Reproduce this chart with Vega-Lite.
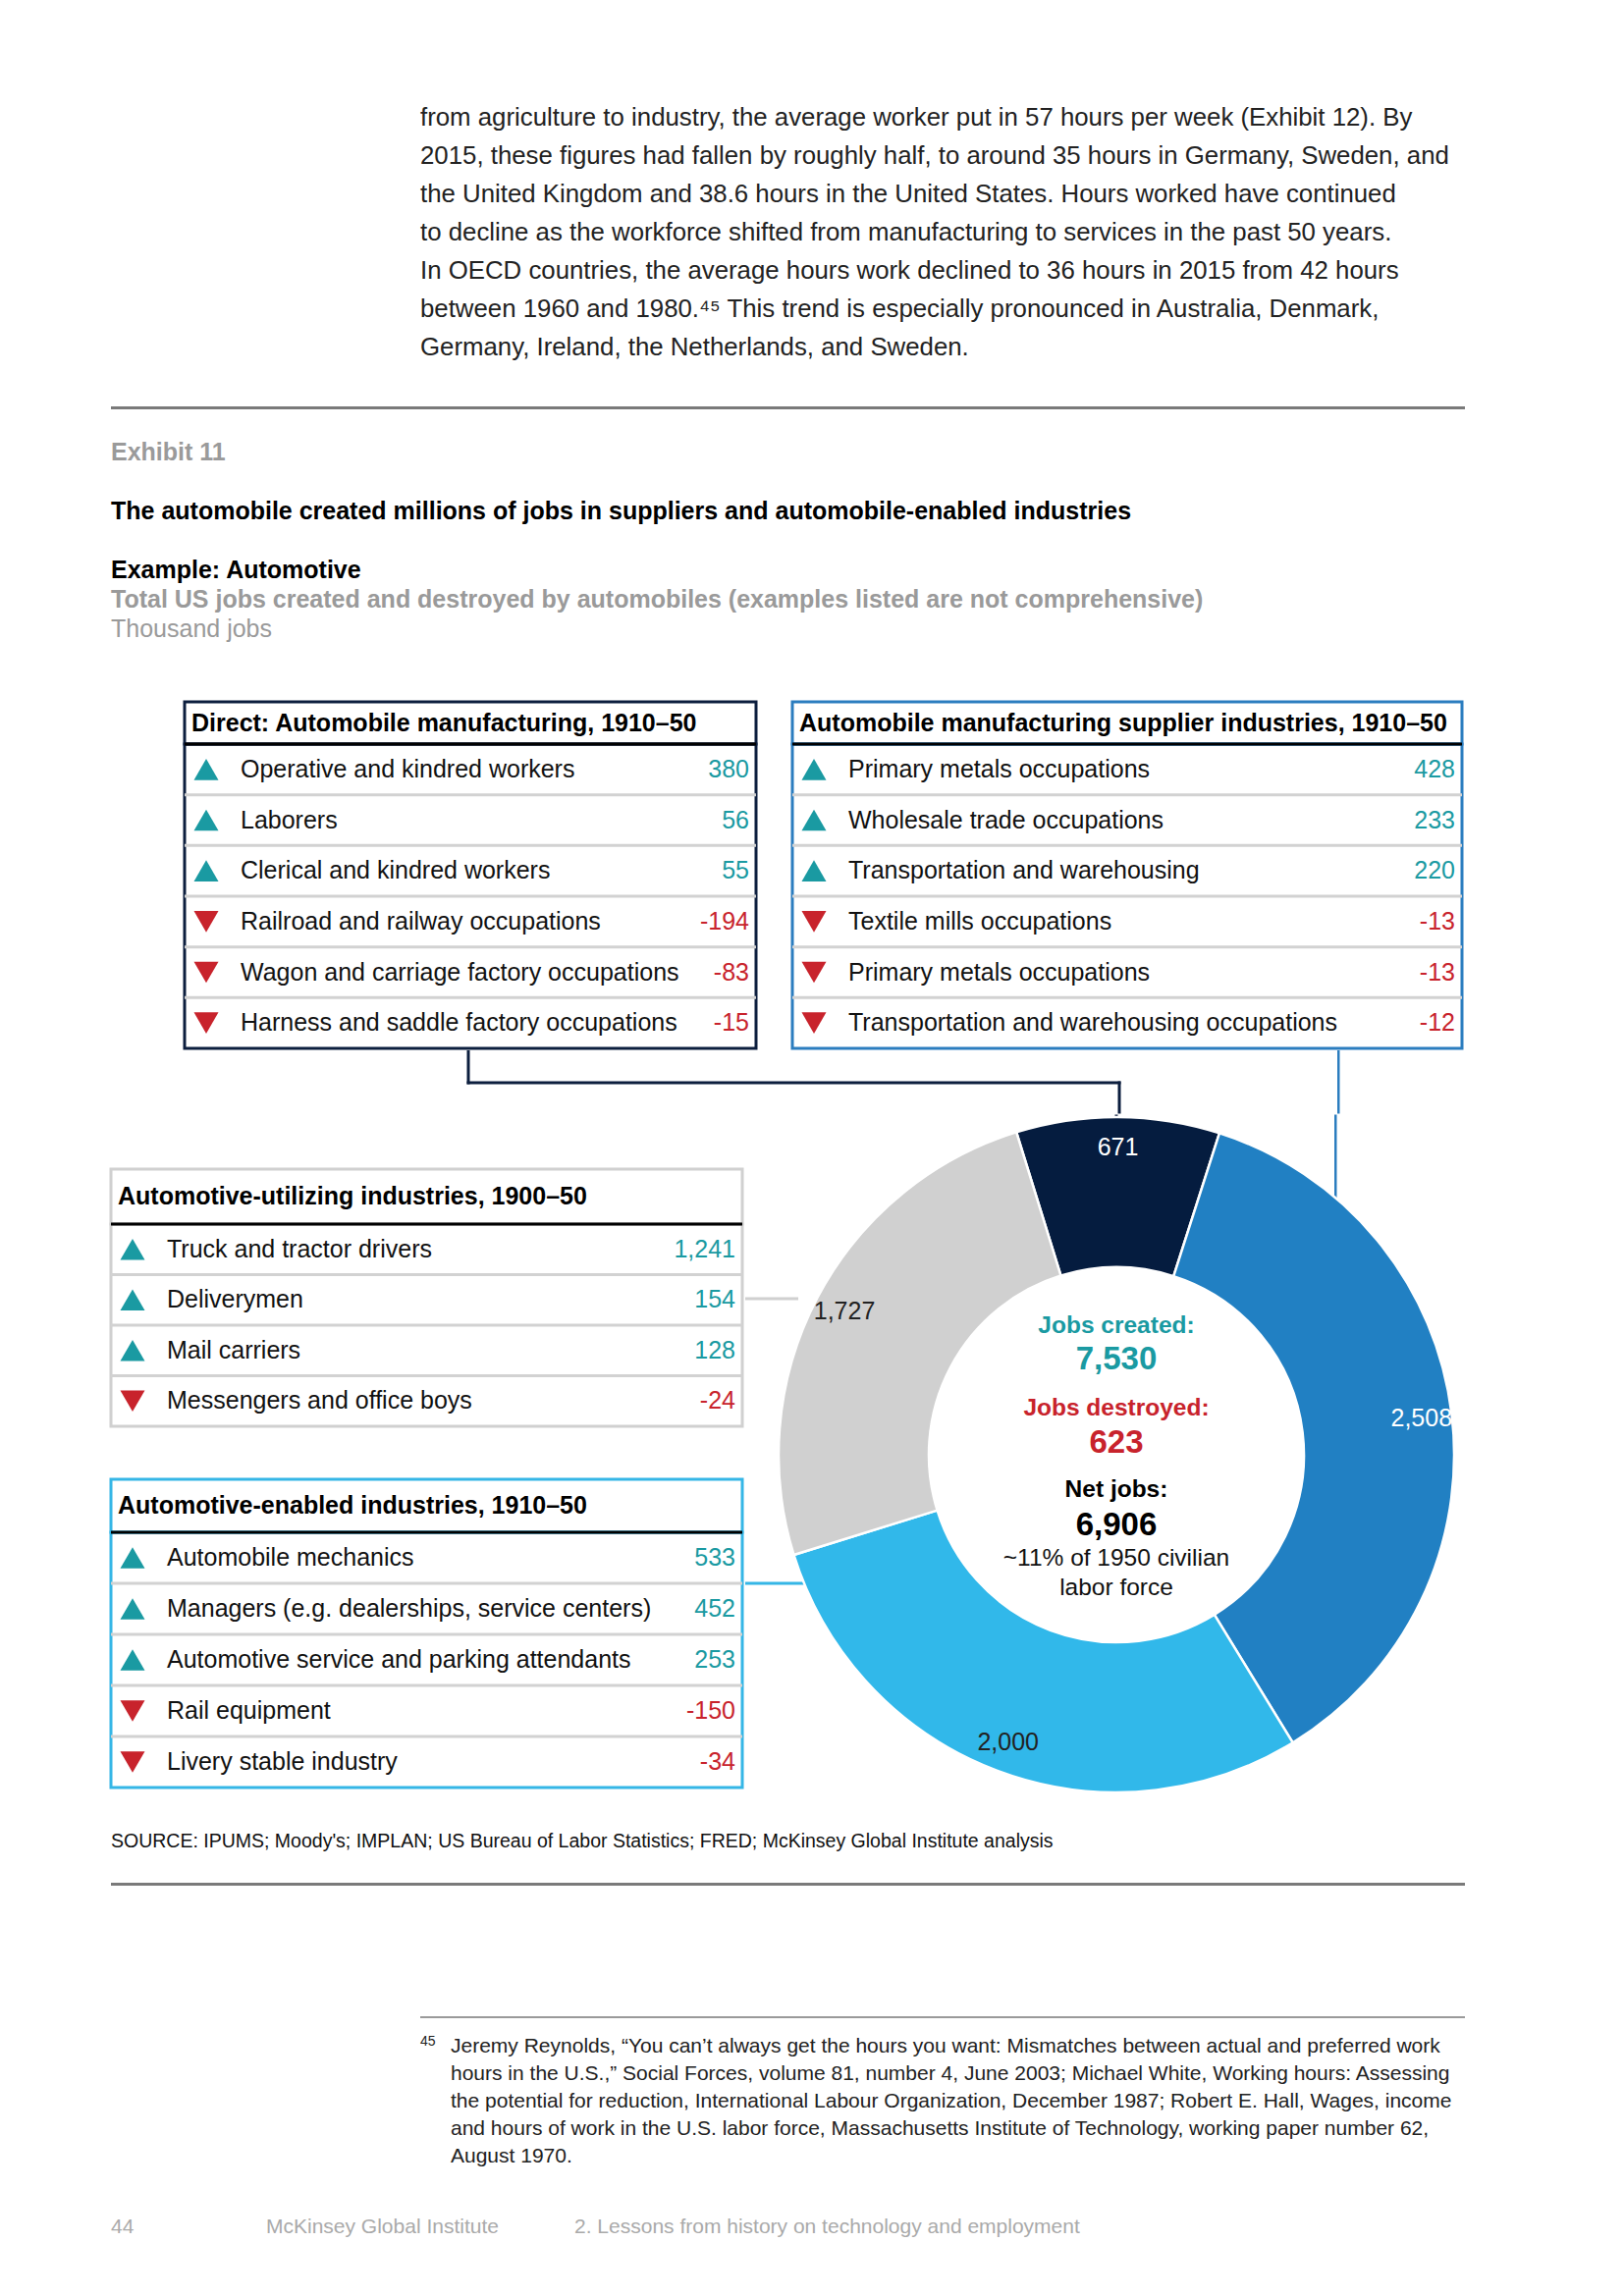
{
  "$schema": "https://vega.github.io/schema/vega-lite/v6.json",
  "padding": {"left": 110, "top": 101, "right": 0, "bottom": 0},
  "background": "white",
  "spacing": 0,
  "config": {
    "view": {"stroke": null},
    "concat": {"spacing": 0},
    "font": "Liberation Sans",
    "text": {"font": "Liberation Sans"},
    "locale": {"number": {"decimal": ".", "thousands": ",", "grouping": [3], "currency": ["$", ""], "minus": "-"}}
  },
  "datasets": {
    "jobs": [
      {"group": "Direct: Automobile manufacturing, 1910–50", "item": "Operative and kindred workers", "change": 380},
      {"group": "Direct: Automobile manufacturing, 1910–50", "item": "Laborers", "change": 56},
      {"group": "Direct: Automobile manufacturing, 1910–50", "item": "Clerical and kindred workers", "change": 55},
      {"group": "Direct: Automobile manufacturing, 1910–50", "item": "Railroad and railway occupations", "change": -194},
      {"group": "Direct: Automobile manufacturing, 1910–50", "item": "Wagon and carriage factory occupations", "change": -83},
      {"group": "Direct: Automobile manufacturing, 1910–50", "item": "Harness and saddle factory occupations", "change": -15},
      {"group": "Automobile manufacturing supplier industries, 1910–50", "item": "Primary metals occupations", "change": 428},
      {"group": "Automobile manufacturing supplier industries, 1910–50", "item": "Wholesale trade occupations", "change": 233},
      {"group": "Automobile manufacturing supplier industries, 1910–50", "item": "Transportation and warehousing", "change": 220},
      {"group": "Automobile manufacturing supplier industries, 1910–50", "item": "Textile mills occupations", "change": -13},
      {"group": "Automobile manufacturing supplier industries, 1910–50", "item": "Primary metals occupations", "change": -13},
      {"group": "Automobile manufacturing supplier industries, 1910–50", "item": "Transportation and warehousing occupations", "change": -12},
      {"group": "Automotive-utilizing industries, 1900–50", "item": "Truck and tractor drivers", "change": 1241},
      {"group": "Automotive-utilizing industries, 1900–50", "item": "Deliverymen", "change": 154},
      {"group": "Automotive-utilizing industries, 1900–50", "item": "Mail carriers", "change": 128},
      {"group": "Automotive-utilizing industries, 1900–50", "item": "Messengers and office boys", "change": -24},
      {"group": "Automotive-enabled industries, 1910–50", "item": "Automobile mechanics", "change": 533},
      {"group": "Automotive-enabled industries, 1910–50", "item": "Managers (e.g. dealerships, service centers)", "change": 452},
      {"group": "Automotive-enabled industries, 1910–50", "item": "Automotive service and parking attendants", "change": 253},
      {"group": "Automotive-enabled industries, 1910–50", "item": "Rail equipment", "change": -150},
      {"group": "Automotive-enabled industries, 1910–50", "item": "Livery stable industry", "change": -34}
    ],
    "donut": [
      {"segment": "Direct: automobile manufacturing", "jobs": 671},
      {"segment": "Automobile manufacturing supplier industries", "jobs": 2508},
      {"segment": "Automotive-enabled industries", "jobs": 2000},
      {"segment": "Automotive-utilizing industries", "jobs": 1727}
    ],
    "totals": [
      {"measure": "Jobs created:", "value": 7530},
      {"measure": "Jobs destroyed:", "value": 623},
      {"measure": "Net jobs:", "value": 6906}
    ]
  },
  "vconcat": [
    {
      "hconcat": [
        {"width": 315, "height": 272, "data": {"values": []}, "mark": "point"},
        {
          "width": 1064, "height": 272,
          "data": {"values": [
            {"text": "from agriculture to industry, the average worker put in 57 hours per week (Exhibit 12). By"},
            {"text": "2015, these figures had fallen by roughly half, to around 35 hours in Germany, Sweden, and"},
            {"text": "the United Kingdom and 38.6 hours in the United States. Hours worked have continued"},
            {"text": "to decline as the workforce shifted from manufacturing to services in the past 50 years."},
            {"text": "In OECD countries, the average hours work declined to 36 hours in 2015 from 42 hours"},
            {"text": "between 1960 and 1980.⁴⁵ This trend is especially pronounced in Australia, Denmark,"},
            {"text": "Germany, Ireland, the Netherlands, and Sweden."}
          ]},
          "mark": {"type": "text", "align": "left", "baseline": "middle", "fontSize": 25.8, "color": "#222222"},
          "encoding": {
            "x": {"value": 0},
            "y": {"field": "text", "type": "ordinal", "sort": null, "axis": null, "scale": {"type": "point", "padding": 0.5}},
            "text": {"field": "text"}
          }
        }
      ],
      "bounds": "flush", "spacing": 0
    },
    {"width": 10, "height": 41, "data": {"values": []}, "mark": "point"},
    {"width": 1379, "height": 3, "view": {"fill": "#7a7a7a", "stroke": null}, "data": {"values": []}, "mark": "point"},
    {"width": 10, "height": 29, "data": {"values": []}, "mark": "point"},
    {
      "width": 1379, "height": 210,
      "data": {"values": [
        {"text": "Exhibit 11", "kind": "exhibit"},
        {"text": "The automobile created millions of jobs in suppliers and automobile-enabled industries", "kind": "title"},
        {"text": "Example: Automotive", "kind": "example"},
        {"text": "Total US jobs created and destroyed by automobiles (examples listed are not comprehensive)", "kind": "subtitle"},
        {"text": "Thousand jobs", "kind": "unit"}
      ]},
      "encoding": {
        "x": {"value": 0},
        "y": {"field": "text", "type": "ordinal", "axis": null, "scale": {"type": "point", "padding": 0.5, "domain": ["Exhibit 11", "gap1", "The automobile created millions of jobs in suppliers and automobile-enabled industries", "gap2", "Example: Automotive", "Total US jobs created and destroyed by automobiles (examples listed are not comprehensive)", "Thousand jobs"]}},
        "text": {"field": "text"},
        "color": {"condition": {"test": "datum.kind === 'title' || datum.kind === 'example'", "value": "#000000"}, "value": "#9a9a9a"}
      },
      "layer": [
        {"transform": [{"filter": "datum.kind !== 'unit'"}], "mark": {"type": "text", "align": "left", "baseline": "middle", "fontSize": 25, "fontWeight": "bold"}},
        {"transform": [{"filter": "datum.kind === 'unit'"}], "mark": {"type": "text", "align": "left", "baseline": "middle", "fontSize": 25}}
      ]
    },
    {"width": 10, "height": 57, "data": {"values": []}, "mark": "point"},
    {
      "hconcat": [
        {"width": 72, "height": 10, "data": {"values": []}, "mark": "point"},
        {
          "vconcat": [
            {
              "width": 582, "height": 43,
              "view": {"stroke": "#0c1e3e", "strokeWidth": 3},
              "data": {"name": "jobs"},
              "transform": [{"filter": {"field": "group", "equal": "Direct: Automobile manufacturing, 1910–50"}}, {"aggregate": [{"op": "count", "as": "n"}], "groupby": ["group"]}],
              "mark": {"type": "text", "x": 7, "align": "left", "baseline": "middle", "fontSize": 25, "fontWeight": "bold", "color": "#000000"},
              "encoding": {"text": {"field": "group"}}
            },
            {
              "width": 582, "height": 310,
              "view": {"stroke": "#0c1e3e", "strokeWidth": 3},
              "data": {"name": "jobs"},
              "transform": [{"filter": {"field": "group", "equal": "Direct: Automobile manufacturing, 1910–50"}}, {"window": [{"op": "row_number", "as": "row"}]}],
              "encoding": {"y": {"field": "row", "type": "ordinal", "axis": null, "scale": {"type": "band", "paddingInner": 0, "paddingOuter": 0}}},
              "layer": [
                {"mark": {"type": "rule", "strokeWidth": 3}, "encoding": {"y": {"field": "row", "type": "ordinal", "bandPosition": 0, "axis": null}, "color": {"condition": {"test": "datum.row === 1", "value": "#000000"}, "value": "#d2d2d2"}}},
                {"mark": {"type": "point", "filled": true, "opacity": 1, "size": 625, "x": 22}, "encoding": {"shape": {"condition": {"test": "datum.change > 0", "value": "triangle-up"}, "value": "triangle-down"}, "color": {"condition": {"test": "datum.change > 0", "value": "#1a9aa2"}, "value": "#c8232c"}}},
                {"mark": {"type": "text", "x": 57, "align": "left", "baseline": "middle", "fontSize": 25, "color": "#111111"}, "encoding": {"text": {"field": "item"}}},
                {"mark": {"type": "text", "x": "width", "dx": -7, "align": "right", "baseline": "middle", "fontSize": 25}, "encoding": {"text": {"field": "change", "type": "quantitative", "format": ","}, "color": {"condition": {"test": "datum.change > 0", "value": "#1a9aa2"}, "value": "#c8232c"}}}
              ]
            }
          ],
          "bounds": "flush", "spacing": 0
        },
        {"width": 31, "height": 10, "data": {"values": []}, "mark": "point"},
        {
          "vconcat": [
            {
              "width": 682, "height": 43,
              "view": {"stroke": "#2b7dbf", "strokeWidth": 3},
              "data": {"name": "jobs"},
              "transform": [{"filter": {"field": "group", "equal": "Automobile manufacturing supplier industries, 1910–50"}}, {"aggregate": [{"op": "count", "as": "n"}], "groupby": ["group"]}],
              "mark": {"type": "text", "x": 7, "align": "left", "baseline": "middle", "fontSize": 25, "fontWeight": "bold", "color": "#000000"},
              "encoding": {"text": {"field": "group"}}
            },
            {
              "width": 682, "height": 310,
              "view": {"stroke": "#2b7dbf", "strokeWidth": 3},
              "data": {"name": "jobs"},
              "transform": [{"filter": {"field": "group", "equal": "Automobile manufacturing supplier industries, 1910–50"}}, {"window": [{"op": "row_number", "as": "row"}]}],
              "encoding": {"y": {"field": "row", "type": "ordinal", "axis": null, "scale": {"type": "band", "paddingInner": 0, "paddingOuter": 0}}},
              "layer": [
                {"mark": {"type": "rule", "strokeWidth": 3}, "encoding": {"y": {"field": "row", "type": "ordinal", "bandPosition": 0, "axis": null}, "color": {"condition": {"test": "datum.row === 1", "value": "#000000"}, "value": "#d2d2d2"}}},
                {"mark": {"type": "point", "filled": true, "opacity": 1, "size": 625, "x": 22}, "encoding": {"shape": {"condition": {"test": "datum.change > 0", "value": "triangle-up"}, "value": "triangle-down"}, "color": {"condition": {"test": "datum.change > 0", "value": "#1a9aa2"}, "value": "#c8232c"}}},
                {"mark": {"type": "text", "x": 57, "align": "left", "baseline": "middle", "fontSize": 25, "color": "#111111"}, "encoding": {"text": {"field": "item"}}},
                {"mark": {"type": "text", "x": "width", "dx": -7, "align": "right", "baseline": "middle", "fontSize": 25}, "encoding": {"text": {"field": "change", "type": "quantitative", "format": ","}, "color": {"condition": {"test": "datum.change > 0", "value": "#1a9aa2"}, "value": "#c8232c"}}}
              ]
            }
          ],
          "bounds": "flush", "spacing": 0
        }
      ],
      "spacing": 0
    },
    {
      "width": 1379, "height": 64.5,
      "data": {"values": [{}]},
      "layer": [
        {"mark": {"type": "rect", "color": "#0c1e3e"}, "encoding": {"x": {"value": 362.5}, "x2": {"value": 365.5}, "y": {"value": 0}, "y2": {"value": 34.5}}},
        {"mark": {"type": "rect", "color": "#0c1e3e"}, "encoding": {"x": {"value": 362.5}, "x2": {"value": 1028.5}, "y": {"value": 31.5}, "y2": {"value": 34.5}}},
        {"mark": {"type": "rect", "color": "#0c1e3e"}, "encoding": {"x": {"value": 1025.5}, "x2": {"value": 1028.5}, "y": {"value": 31.5}, "y2": {"value": 64.5}}},
        {"mark": {"type": "rect", "color": "#2b7dbf"}, "encoding": {"x": {"value": 1249}, "x2": {"value": 1251.5}, "y": {"value": 0}, "y2": {"value": 64.5}}}
      ]
    },
    {
      "hconcat": [
        {
          "vconcat": [
            {"width": 10, "height": 52, "data": {"values": []}, "mark": "point"},
            {
              "width": 643, "height": 56,
              "view": {"stroke": "#d0d0d0", "strokeWidth": 3},
              "data": {"name": "jobs"},
              "transform": [{"filter": {"field": "group", "equal": "Automotive-utilizing industries, 1900–50"}}, {"aggregate": [{"op": "count", "as": "n"}], "groupby": ["group"]}],
              "mark": {"type": "text", "x": 7, "align": "left", "baseline": "middle", "fontSize": 25, "fontWeight": "bold", "color": "#000000"},
              "encoding": {"text": {"field": "group"}}
            },
            {
              "width": 643, "height": 206,
              "view": {"stroke": "#d0d0d0", "strokeWidth": 3},
              "data": {"name": "jobs"},
              "transform": [{"filter": {"field": "group", "equal": "Automotive-utilizing industries, 1900–50"}}, {"window": [{"op": "row_number", "as": "row"}]}],
              "encoding": {"y": {"field": "row", "type": "ordinal", "axis": null, "scale": {"type": "band", "paddingInner": 0, "paddingOuter": 0}}},
              "layer": [
                {"mark": {"type": "rule", "strokeWidth": 3}, "encoding": {"y": {"field": "row", "type": "ordinal", "bandPosition": 0, "axis": null}, "color": {"condition": {"test": "datum.row === 1", "value": "#000000"}, "value": "#d2d2d2"}}},
                {"mark": {"type": "point", "filled": true, "opacity": 1, "size": 625, "x": 22}, "encoding": {"shape": {"condition": {"test": "datum.change > 0", "value": "triangle-up"}, "value": "triangle-down"}, "color": {"condition": {"test": "datum.change > 0", "value": "#1a9aa2"}, "value": "#c8232c"}}},
                {"mark": {"type": "text", "x": 57, "align": "left", "baseline": "middle", "fontSize": 25, "color": "#111111"}, "encoding": {"text": {"field": "item"}}},
                {"mark": {"type": "text", "x": "width", "dx": -7, "align": "right", "baseline": "middle", "fontSize": 25}, "encoding": {"text": {"field": "change", "type": "quantitative", "format": ","}, "color": {"condition": {"test": "datum.change > 0", "value": "#1a9aa2"}, "value": "#c8232c"}}}
              ]
            },
            {"width": 10, "height": 54, "data": {"values": []}, "mark": "point"},
            {
              "width": 643, "height": 54,
              "view": {"stroke": "#35b6e6", "strokeWidth": 3},
              "data": {"name": "jobs"},
              "transform": [{"filter": {"field": "group", "equal": "Automotive-enabled industries, 1910–50"}}, {"aggregate": [{"op": "count", "as": "n"}], "groupby": ["group"]}],
              "mark": {"type": "text", "x": 7, "align": "left", "baseline": "middle", "fontSize": 25, "fontWeight": "bold", "color": "#000000"},
              "encoding": {"text": {"field": "group"}}
            },
            {
              "width": 643, "height": 260,
              "view": {"stroke": "#35b6e6", "strokeWidth": 3},
              "data": {"name": "jobs"},
              "transform": [{"filter": {"field": "group", "equal": "Automotive-enabled industries, 1910–50"}}, {"window": [{"op": "row_number", "as": "row"}]}],
              "encoding": {"y": {"field": "row", "type": "ordinal", "axis": null, "scale": {"type": "band", "paddingInner": 0, "paddingOuter": 0}}},
              "layer": [
                {"mark": {"type": "rule", "strokeWidth": 3}, "encoding": {"y": {"field": "row", "type": "ordinal", "bandPosition": 0, "axis": null}, "color": {"condition": {"test": "datum.row === 1", "value": "#000000"}, "value": "#d2d2d2"}}},
                {"mark": {"type": "point", "filled": true, "opacity": 1, "size": 625, "x": 22}, "encoding": {"shape": {"condition": {"test": "datum.change > 0", "value": "triangle-up"}, "value": "triangle-down"}, "color": {"condition": {"test": "datum.change > 0", "value": "#1a9aa2"}, "value": "#c8232c"}}},
                {"mark": {"type": "text", "x": 57, "align": "left", "baseline": "middle", "fontSize": 25, "color": "#111111"}, "encoding": {"text": {"field": "item"}}},
                {"mark": {"type": "text", "x": "width", "dx": -7, "align": "right", "baseline": "middle", "fontSize": 25}, "encoding": {"text": {"field": "change", "type": "quantitative", "format": ","}, "color": {"condition": {"test": "datum.change > 0", "value": "#1a9aa2"}, "value": "#c8232c"}}}
              ]
            }
          ],
          "bounds": "flush", "spacing": 0
        },
        {
          "width": 756, "height": 686,
          "resolve": {"scale": {"color": "independent", "y": "independent"}},
          "layer": [
            {"data": {"values": [{}]}, "mark": {"type": "rect", "color": "#2b7dbf"}, "encoding": {"x": {"value": 600}, "x2": {"value": 602.5}, "y": {"value": -3.5}, "y2": {"value": 82}}},
            {"data": {"values": [{}]}, "mark": {"type": "rect", "color": "#0c1e3e"}, "encoding": {"x": {"value": 376.5}, "x2": {"value": 379.5}, "y": {"value": -3.5}, "y2": {"value": 4}}},
            {"data": {"values": [{}]}, "mark": {"type": "rect", "color": "#d0d0d0"}, "encoding": {"x": {"value": 0}, "x2": {"value": 54}, "y": {"value": 182.5}, "y2": {"value": 185.5}}},
            {"data": {"values": [{}]}, "mark": {"type": "rect", "color": "#35b6e6"}, "encoding": {"x": {"value": 0}, "x2": {"value": 60}, "y": {"value": 472.5}, "y2": {"value": 475.5}}},
            {
              "data": {"name": "donut"},
              "mark": {"type": "arc", "outerRadius": 344, "innerRadius": 191, "stroke": "#ffffff", "strokeWidth": 2.5, "strokeJoin": "round"},
              "encoding": {
                "theta": {"field": "jobs", "type": "quantitative", "stack": true, "scale": {"range": [0.31, 6.5932]}},
                "order": {"field": "segment", "type": "ordinal", "sort": "ascending"},
                "color": {"field": "segment", "type": "nominal", "legend": null, "scale": {"domain": ["Automobile manufacturing supplier industries", "Automotive-enabled industries", "Automotive-utilizing industries", "Direct: automobile manufacturing"], "range": ["#2180c3", "#31b8ea", "#d0d0d0", "#051c3f"]}}
              }
            },
            {
              "data": {"name": "donut"},
              "mark": {"type": "text", "radius": 313, "fontSize": 25, "align": "center", "baseline": "middle"},
              "encoding": {
                "theta": {"field": "jobs", "type": "quantitative", "stack": true, "scale": {"range": [0.31, 6.5932]}},
                "order": {"field": "segment", "type": "ordinal", "sort": "ascending"},
                "text": {"field": "jobs", "type": "quantitative", "format": ","},
                "color": {"field": "segment", "type": "nominal", "legend": null, "scale": {"domain": ["Automobile manufacturing supplier industries", "Automotive-enabled industries", "Automotive-utilizing industries", "Direct: automobile manufacturing"], "range": ["#ffffff", "#222222", "#222222", "#ffffff"]}}
              }
            },
            {
              "data": {"name": "totals"},
              "mark": {"type": "text", "fontSize": 24.5, "fontWeight": "bold", "align": "center", "baseline": "middle"},
              "encoding": {
                "y": {"field": "measure", "type": "ordinal", "axis": null, "scale": {"type": "point", "padding": 0, "range": [212, 379], "domain": ["Jobs created:", "Jobs destroyed:", "Net jobs:"]}},
                "text": {"field": "measure"},
                "color": {"condition": [{"test": "datum.measure === 'Jobs created:'", "value": "#1a9aa2"}, {"test": "datum.measure === 'Jobs destroyed:'", "value": "#c8232c"}], "value": "#000000"}
              }
            },
            {
              "data": {"name": "totals"},
              "mark": {"type": "text", "fontSize": 33, "fontWeight": "bold", "align": "center", "baseline": "middle"},
              "encoding": {
                "y": {"field": "value", "type": "ordinal", "axis": null, "scale": {"type": "point", "padding": 0, "range": [246, 415], "domain": [7530, 623, 6906]}},
                "text": {"field": "value", "type": "quantitative", "format": ","},
                "color": {"condition": [{"test": "datum.measure === 'Jobs created:'", "value": "#1a9aa2"}, {"test": "datum.measure === 'Jobs destroyed:'", "value": "#c8232c"}], "value": "#000000"}
              }
            },
            {
              "data": {"values": [{"line": "~11% of 1950 civilian"}, {"line": "labor force"}]},
              "mark": {"type": "text", "fontSize": 24.5, "align": "center", "baseline": "middle", "color": "#111111"},
              "encoding": {
                "y": {"field": "line", "type": "ordinal", "axis": null, "scale": {"type": "point", "padding": 0, "range": [449, 479], "domain": ["~11% of 1950 civilian", "labor force"]}},
                "text": {"field": "line"}
              }
            }
          ]
        }
      ],
      "spacing": 0
    },
    {"width": 10, "height": 35, "data": {"values": []}, "mark": "point"},
    {
      "width": 1379, "height": 26,
      "data": {"values": [{"text": "SOURCE: IPUMS; Moody's; IMPLAN; US Bureau of Labor Statistics; FRED; McKinsey Global Institute analysis"}]},
      "mark": {"type": "text", "align": "left", "baseline": "middle", "fontSize": 19.5, "color": "#111111"},
      "encoding": {"x": {"value": 0}, "text": {"field": "text"}}
    },
    {"width": 10, "height": 29, "data": {"values": []}, "mark": "point"},
    {"width": 1379, "height": 3, "view": {"fill": "#7a7a7a", "stroke": null}, "data": {"values": []}, "mark": "point"},
    {"width": 10, "height": 133, "data": {"values": []}, "mark": "point"},
    {
      "hconcat": [
        {"width": 315, "height": 10, "data": {"values": []}, "mark": "point"},
        {
          "vconcat": [
            {"width": 1064, "height": 2, "view": {"fill": "#9a9a9a", "stroke": null}, "data": {"values": []}, "mark": "point"},
            {"width": 10, "height": 15, "data": {"values": []}, "mark": "point"},
            {
              "hconcat": [
                {
                  "width": 31, "height": 28,
                  "data": {"values": [{"note": "45"}]},
                  "mark": {"type": "text", "align": "left", "baseline": "middle", "fontSize": 14, "dy": -5, "color": "#222222"},
                  "encoding": {"x": {"value": 0}, "text": {"field": "note"}}
                },
                {
                  "width": 1033, "height": 140,
                  "data": {"values": [
                    {"text": "Jeremy Reynolds, “You can’t always get the hours you want: Mismatches between actual and preferred work"},
                    {"text": "hours in the U.S.,” Social Forces, volume 81, number 4, June 2003; Michael White, Working hours: Assessing"},
                    {"text": "the potential for reduction, International Labour Organization, December 1987; Robert E. Hall, Wages, income"},
                    {"text": "and hours of work in the U.S. labor force, Massachusetts Institute of Technology, working paper number 62,"},
                    {"text": "August 1970."}
                  ]},
                  "mark": {"type": "text", "align": "left", "baseline": "middle", "fontSize": 21, "color": "#222222"},
                  "encoding": {
                    "x": {"value": 0},
                    "y": {"field": "text", "type": "ordinal", "sort": null, "axis": null, "scale": {"type": "point", "padding": 0.5}},
                    "text": {"field": "text"}
                  }
                }
              ],
              "bounds": "flush", "spacing": 0
            }
          ],
          "spacing": 0
        }
      ],
      "spacing": 0
    },
    {"width": 10, "height": 45, "data": {"values": []}, "mark": "point"},
    {
      "hconcat": [
        {"width": 158, "height": 26, "data": {"values": [{"t": "44"}]}, "mark": {"type": "text", "align": "left", "baseline": "middle", "fontSize": 21, "color": "#aaaaaa"}, "encoding": {"x": {"value": 0}, "text": {"field": "t"}}},
        {"width": 314, "height": 26, "data": {"values": [{"t": "McKinsey Global Institute"}]}, "mark": {"type": "text", "align": "left", "baseline": "middle", "fontSize": 21, "color": "#aaaaaa"}, "encoding": {"x": {"value": 0}, "text": {"field": "t"}}},
        {"width": 600, "height": 26, "data": {"values": [{"t": "2. Lessons from history on technology and employment"}]}, "mark": {"type": "text", "align": "left", "baseline": "middle", "fontSize": 21, "color": "#aaaaaa"}, "encoding": {"x": {"value": 0}, "text": {"field": "t"}}}
      ],
      "bounds": "flush", "spacing": 0
    }
  ]
}
